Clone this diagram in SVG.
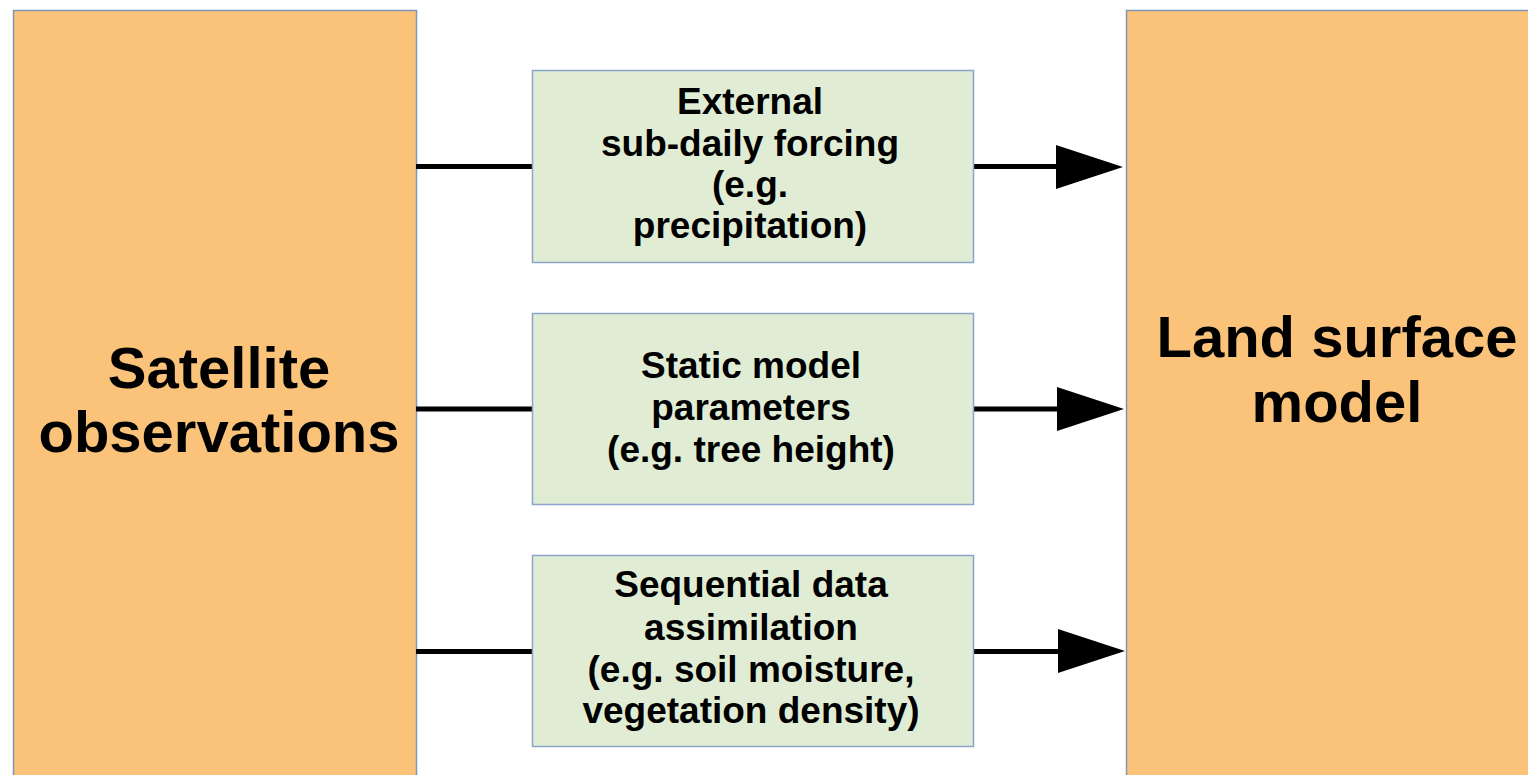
<svg xmlns="http://www.w3.org/2000/svg" width="1528" height="775" viewBox="0 0 1528 775">
  <style>
    .big { fill: #FBC379; stroke: #7F96B8; stroke-width: 1.5; }
    .mid { fill: #E0EDD4; stroke: #8BA5C8; stroke-width: 1.5; }
    .bt { font-family: "Liberation Sans", Arial, sans-serif; font-weight: bold; font-size: 58px; fill: #000; text-anchor: middle; }
    .st { font-family: "Liberation Sans", Arial, sans-serif; font-weight: bold; font-size: 37px; fill: #000; text-anchor: middle; }
    .ln { stroke: #000; stroke-width: 5; fill: none; }
  </style>
  <rect width="1528" height="775" fill="#fff"/>
  <g id="satellite">
    <rect class="big" x="13.5" y="10.5" width="403" height="780"/>
    <text class="bt" x="219" y="388">Satellite</text>
    <text class="bt" x="219" y="452">observations</text>
  </g>
  <g id="lsm">
    <rect class="big" x="1126.5" y="10.5" width="420" height="780"/>
    <text class="bt" x="1337" y="357">Land surface</text>
    <text class="bt" x="1337" y="422">model</text>
  </g>
  <g id="connectors">
    <line class="ln" x1="416" y1="166.5" x2="533" y2="166.5"/>
    <line class="ln" x1="974" y1="166.5" x2="1060" y2="166.5"/>
    <polygon points="1056,145 1123,167 1056,189" fill="#000"/>
    <line class="ln" x1="416" y1="409" x2="533" y2="409"/>
    <line class="ln" x1="974" y1="409" x2="1060" y2="409"/>
    <polygon points="1057,387 1124,409 1057,431" fill="#000"/>
    <line class="ln" x1="416" y1="651.5" x2="533" y2="651.5"/>
    <line class="ln" x1="974" y1="651.5" x2="1060" y2="651.5"/>
    <polygon points="1058,629 1125,651 1058,673" fill="#000"/>
  </g>
  <g id="forcing">
    <rect class="mid" x="532.5" y="70.5" width="441" height="192"/>
    <text class="st" x="750" y="114">External</text>
    <text class="st" x="750" y="156">sub-daily forcing</text>
    <text class="st" x="750" y="197">(e.g.</text>
    <text class="st" x="750" y="238">precipitation)</text>
  </g>
  <g id="static">
    <rect class="mid" x="532.5" y="313.5" width="441" height="191"/>
    <text class="st" x="751" y="378">Static model</text>
    <text class="st" x="751" y="420">parameters</text>
    <text class="st" x="751" y="462">(e.g. tree height)</text>
  </g>
  <g id="assimilation">
    <rect class="mid" x="532.5" y="555.5" width="441" height="191"/>
    <text class="st" x="751" y="597">Sequential data</text>
    <text class="st" x="751" y="640">assimilation</text>
    <text class="st" x="751" y="682">(e.g. soil moisture,</text>
    <text class="st" x="751" y="723">vegetation density)</text>
  </g>
</svg>
